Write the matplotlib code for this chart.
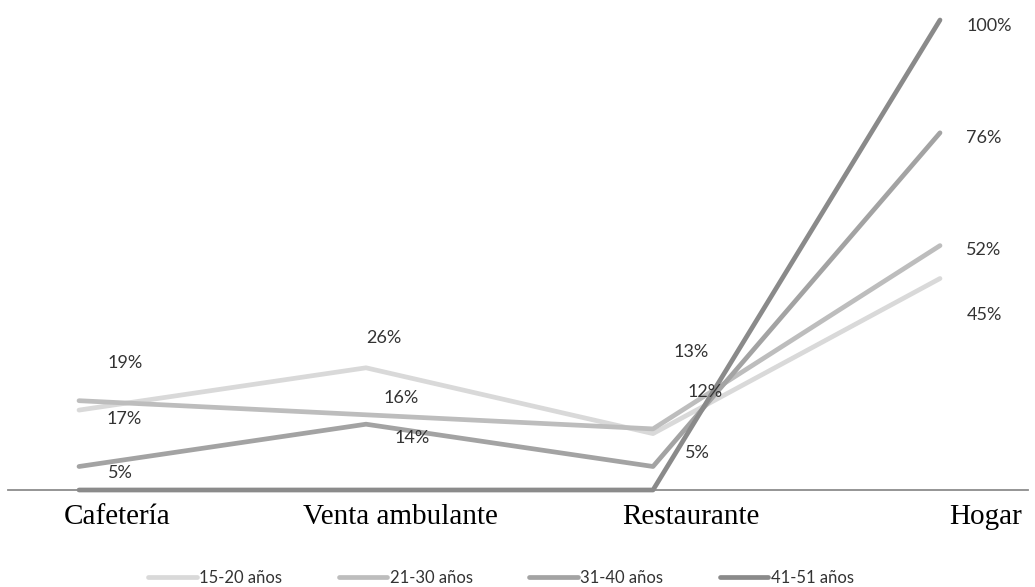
import matplotlib
matplotlib.use("Agg")
from matplotlib import pyplot as plt
import numpy as np

categorias = ["Cafetería", "Venta ambulante", "Restaurante", "Hogar"]
grupos = ["15-20 años", "21-30 años", "31-40 años", "41-51 años"]
v_15_20 = [17, 26, 12, 45]
v_21_30 = [19, 16, 13, 52]
v_31_40 = [5, 14, 5, 76]
v_41_51 = [0, 0, 0, 100]
series = [v_15_20, v_21_30, v_31_40, v_41_51]

colores = ["#d9d9d9", "#bdbdbd", "#a3a3a3", "#8a8a8a"]

# desplazamiento (px) de cada etiqueta respecto a su punto; None = sin etiqueta
desp = [
    [(45, -9), (18, 30), (52, 42), (44, -37)],
    [(46, 38), (35, 17), (38, 77), (44, -4)],
    [(41, -7), (46, -14), (44, 13), (44, -5)],
    [None, None, None, (49, -6)],
]
desp_cat = [38, 34, 38, 46]

fig = plt.figure(figsize=(10.35, 5.87), dpi=100)
ax = fig.add_axes([8 / 1035, 1 - 490 / 587, 1020 / 1035, 474.7 / 587])

x = np.arange(len(categorias))
for vals, col, g in zip(series, colores, grupos):
    ax.plot(x, vals, color=col, lw=3.4, label=g, clip_on=False,
            solid_capstyle="round", solid_joinstyle="round")

for vals, ds in zip(series, desp):
    for xi, v, d in zip(x, vals, ds):
        if d is None:
            continue
        ax.annotate("%d%%" % v, (xi, v), xytext=d, textcoords="offset pixels",
                    ha="center", va="center", fontsize=13, color="#333333",
                    family="Lato", annotation_clip=False)

for xi, c, d in zip(x, categorias, desp_cat):
    ax.annotate(c, (xi, 0), xytext=(d, -27), textcoords="offset pixels",
                ha="center", va="center", fontsize=21, color="black",
                family="Liberation Serif", annotation_clip=False)

ax.set_xlim(-0.2474, 3.3066)
ax.set_ylim(0, 101)
ax.set_xticks([])
ax.set_yticks([])
for s in ["top", "right", "left"]:
    ax.spines[s].set_visible(False)
ax.spines["bottom"].set_color("#8c8c8c")
ax.spines["bottom"].set_linewidth(1.3)

fig.legend(loc="center", bbox_to_anchor=(0.484, 0.016), ncol=4, frameon=False,
           handlelength=2.9, handletextpad=0.15, columnspacing=3.4,
           borderpad=0, prop={"family": "Lato", "size": 12}, labelcolor="#333333")

plt.savefig("out.png", dpi=100)
